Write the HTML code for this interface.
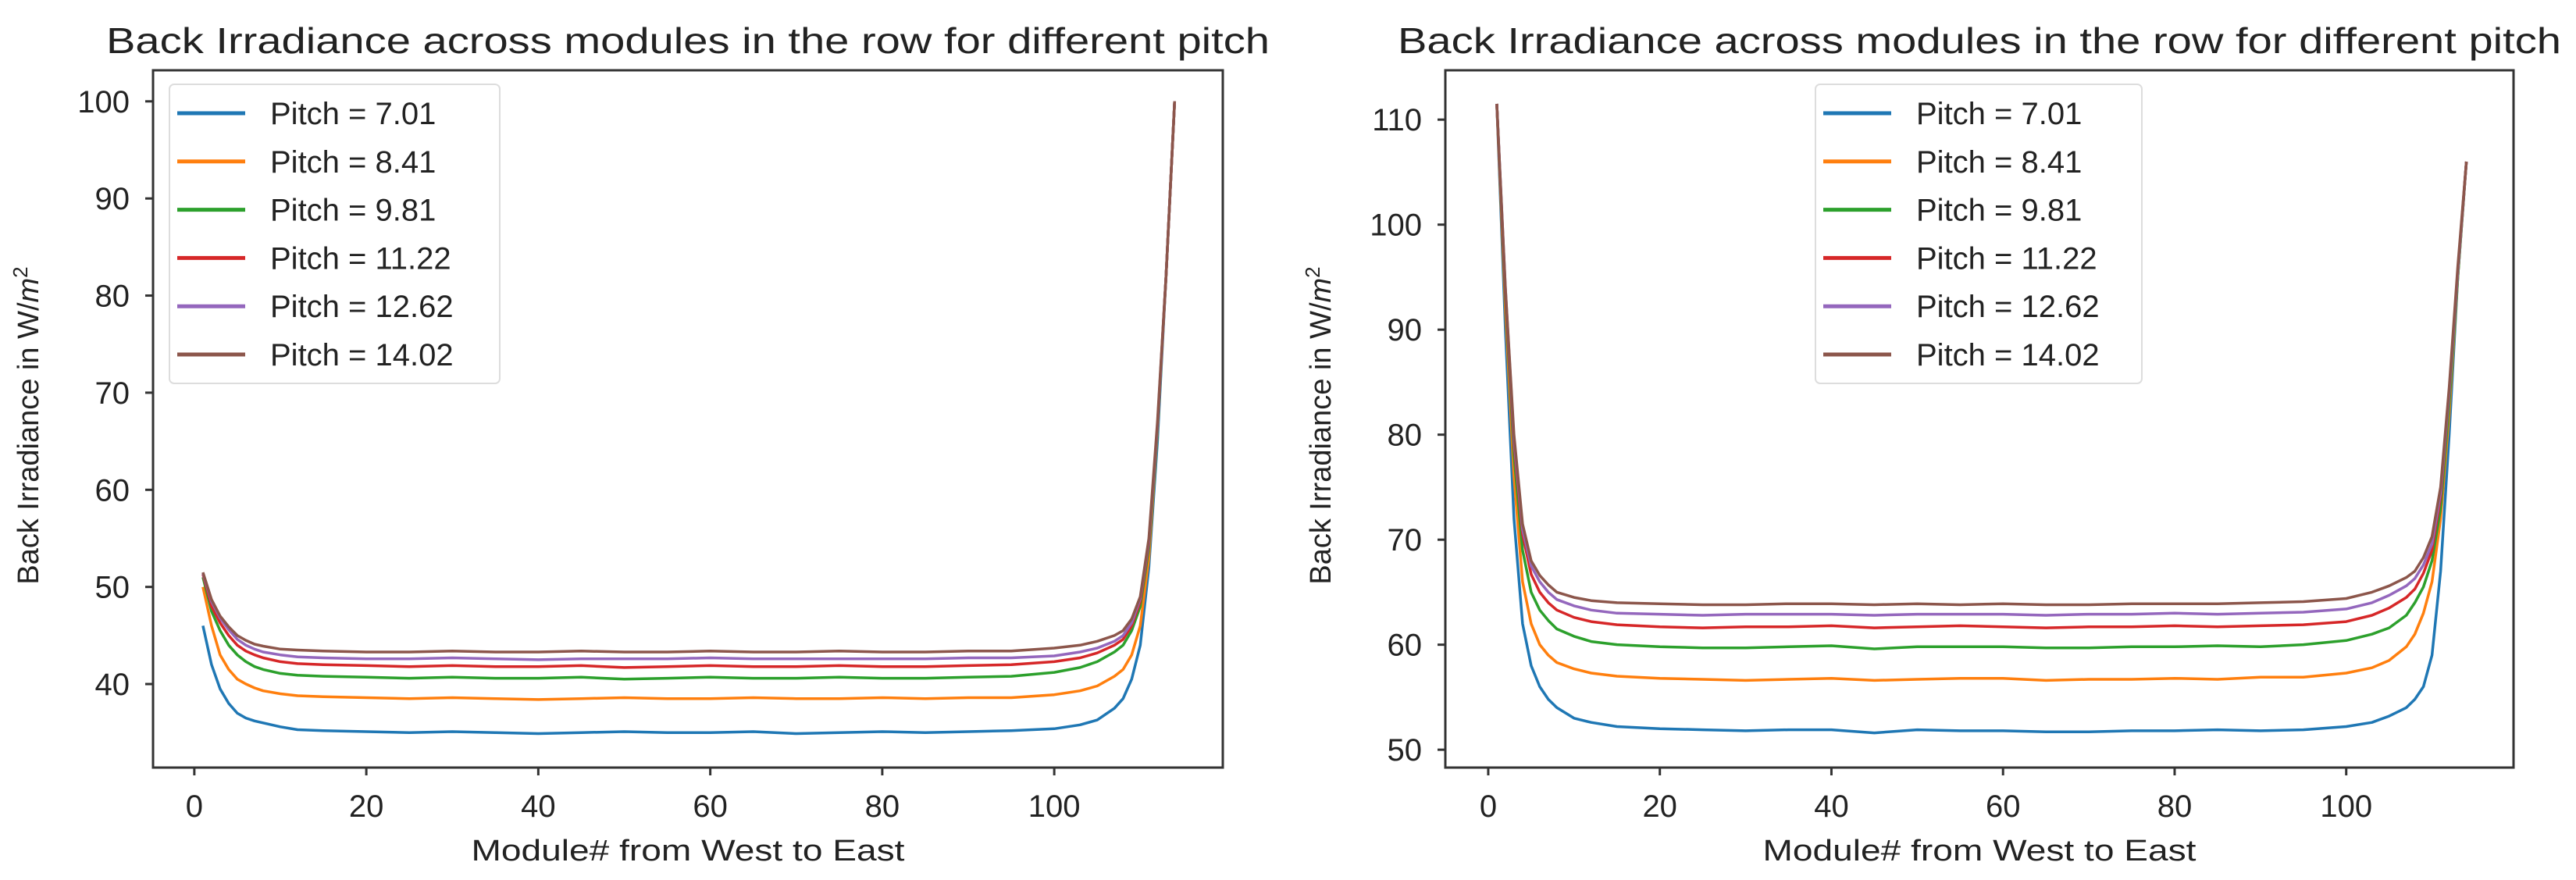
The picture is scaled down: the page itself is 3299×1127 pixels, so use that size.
<!DOCTYPE html>
<html><head><meta charset="utf-8">
<style>
html,body{margin:0;padding:0;background:#fff;}
svg{display:block;font-family:"Liberation Sans","DejaVu Sans",sans-serif;}
</style></head>
<body>
<svg id="chart" width="3299" height="1127" viewBox="0 0 3299 1127" xmlns="http://www.w3.org/2000/svg"></svg>
<script>
const xs = [1,2,3,4,5,6,7,8,10,12,15,20,25,30,35,40,45,50,55,60,65,70,75,80,85,90,95,100,103,105,107,108,109,110,111,112,113,114];
const labels = ["Pitch = 7.01","Pitch = 8.41","Pitch = 9.81","Pitch = 11.22","Pitch = 12.62","Pitch = 14.02"];
const colors = ["#1f77b4","#ff7f0e","#2ca02c","#d62728","#9467bd","#8c564b"];
const leftXTicks = [0,20,40,60,80,100];
const leftYTicks = [40,50,60,70,80,90,100];
const rightYTicks = [50,60,70,80,90,100,110];
const L1 = [46,42,39.5,38,37,36.5,36.2,36,35.6,35.3,35.2,35.1,35.0,35.1,35.0,34.9,35.0,35.1,35.0,35.0,35.1,34.9,35.0,35.1,35.0,35.1,35.2,35.4,35.8,36.3,37.5,38.5,40.5,44,52,65,82,100];
const L2 = [50,46,43,41.5,40.5,40,39.6,39.3,39,38.8,38.7,38.6,38.5,38.6,38.5,38.4,38.5,38.6,38.5,38.5,38.6,38.5,38.5,38.6,38.5,38.6,38.6,38.9,39.3,39.8,40.8,41.5,43,46,53,66,82,100];
const L3 = [51,47.5,45.5,44,43,42.3,41.8,41.5,41.1,40.9,40.8,40.7,40.6,40.7,40.6,40.6,40.7,40.5,40.6,40.7,40.6,40.6,40.7,40.6,40.6,40.7,40.8,41.2,41.7,42.3,43.3,44,45.5,48,54,66,82,100];
const L4 = [51.3,48,46.3,45,44,43.4,43,42.7,42.3,42.1,42,41.9,41.8,41.9,41.8,41.8,41.9,41.7,41.8,41.9,41.8,41.8,41.9,41.8,41.8,41.9,42,42.3,42.7,43.2,44,44.6,46,48.5,54.5,66.5,82,100];
const L5 = [51.4,48.5,46.8,45.6,44.6,44,43.6,43.3,43,42.8,42.7,42.6,42.6,42.7,42.6,42.5,42.6,42.6,42.6,42.7,42.6,42.6,42.6,42.6,42.6,42.7,42.7,42.9,43.3,43.7,44.4,45,46.3,48.8,54.7,66.5,82,100];
const L6 = [51.5,48.7,47,45.9,45,44.5,44.1,43.9,43.6,43.5,43.4,43.3,43.3,43.4,43.3,43.3,43.4,43.3,43.3,43.4,43.3,43.3,43.4,43.3,43.3,43.4,43.4,43.7,44,44.4,45,45.5,46.7,49,55,67,82,100];
const R1 = [111.5,90,72,62,58,56,54.8,54,53,52.6,52.2,52,51.9,51.8,51.9,51.9,51.6,51.9,51.8,51.8,51.7,51.7,51.8,51.8,51.9,51.8,51.9,52.2,52.6,53.2,54,54.8,56,59,67,80,95,106];
const R2 = [111.5,92,76,66,62,60,59,58.3,57.7,57.3,57,56.8,56.7,56.6,56.7,56.8,56.6,56.7,56.8,56.8,56.6,56.7,56.7,56.8,56.7,56.9,56.9,57.3,57.8,58.5,59.8,61,63,66,72,82,95,106];
const R3 = [111.5,93,78,69,65,63.3,62.3,61.5,60.8,60.3,60,59.8,59.7,59.7,59.8,59.9,59.6,59.8,59.8,59.8,59.7,59.7,59.8,59.8,59.9,59.8,60,60.4,61,61.6,62.8,64,65.5,68,73,83,95,106];
const R4 = [111.5,93.5,79,70.5,66.7,65,64,63.3,62.6,62.2,61.9,61.7,61.6,61.7,61.7,61.8,61.6,61.7,61.8,61.7,61.6,61.7,61.7,61.8,61.7,61.8,61.9,62.2,62.8,63.5,64.5,65.3,66.8,69,74,84,95.5,106];
const R5 = [111.5,94,79.5,71,67.5,66,65,64.3,63.7,63.3,63,62.9,62.8,62.9,62.9,62.9,62.8,62.9,62.9,62.9,62.8,62.9,62.9,63,62.9,63,63.1,63.4,64,64.7,65.6,66.3,67.6,69.6,74.5,84,95.5,106];
const R6 = [111.5,94,80,71.5,68,66.6,65.7,65,64.5,64.2,64,63.9,63.8,63.8,63.9,63.9,63.8,63.9,63.8,63.9,63.8,63.8,63.9,63.9,63.9,64,64.1,64.4,65,65.6,66.4,67,68.3,70.3,75,84.5,96,106];

const NS="http://www.w3.org/2000/svg";
const svg=document.getElementById('chart');
function mk(tag,attrs,parent,text){const e=document.createElementNS(NS,tag);for(const k in attrs)e.setAttribute(k,attrs[k]);if(text!==undefined)e.textContent=text;(parent||svg).appendChild(e);return e;}

function panel(id,box,xr,yr,yTicks,series,legendX){
  const g=mk('g',{});
  
  
  const sx=v=>box.x0+(v-xr[0])/(xr[1]-xr[0])*(box.x1-box.x0);
  const sy=v=>box.y1-(v-yr[0])/(yr[1]-yr[0])*(box.y1-box.y0);
  const t=mk('text',{x:(box.x0+box.x1)/2,y:68,'font-size':46,'text-anchor':'middle',fill:'#222',textLength:1490,lengthAdjust:'spacingAndGlyphs'},g,'Back Irradiance across modules in the row for different pitch');
  
  
  // series
  series.forEach((s,i)=>{
    const d=xs.map((x,j)=>(j?'L':'M')+sx(x).toFixed(1)+','+sy(s[j]).toFixed(1)).join(' ');
    const p=mk('path',{d:d,fill:'none',stroke:colors[i],'stroke-width':3.5,'stroke-linejoin':'round'},g);
    
    
  });
  const frame=mk('rect',{x:box.x0,y:box.y0,width:box.x1-box.x0,height:box.y1-box.y0,fill:'none',stroke:'#333','stroke-width':3},g);
  
  
  leftXTicks.forEach(v=>{
    mk('line',{x1:sx(v),x2:sx(v),y1:box.y1,y2:box.y1+10,stroke:'#333','stroke-width':3},g);
    const tl=mk('text',{x:sx(v),y:1046,'font-size':40,'text-anchor':'middle',fill:'#222'},g,String(v));
    
    
  });
  yTicks.forEach(v=>{
    mk('line',{x1:box.x0-10,x2:box.x0,y1:sy(v),y2:sy(v),stroke:'#333','stroke-width':3},g);
    const tl=mk('text',{x:box.x0-30,y:sy(v)+14,'font-size':40,'text-anchor':'end',fill:'#222'},g,String(v));
    
    
  });
  const xl=mk('text',{x:(box.x0+box.x1)/2,y:1102,'font-size':38,'text-anchor':'middle',fill:'#222',textLength:555,lengthAdjust:'spacingAndGlyphs'},g,'Module# from West to East');
  
  
  const yx=box.x0-160;
  const yl=mk('text',{x:0,y:0,'font-size':38,'text-anchor':'middle',fill:'#222',transform:`translate(${yx+13},545) rotate(-90)`},g);
  
  
  yl.appendChild(document.createTextNode('Back Irradiance in W/'));
  const ts=mk('tspan',{'font-style':'italic'},yl,'m');
  mk('tspan',{dy:-14,'font-size':26},yl,'2');
  // legend
  const lg=mk('g',{},g);
  
  
  mk('rect',{x:legendX,y:108,width:legendX===217?423:418,height:383,rx:6,fill:'#fff',stroke:'#ddd','stroke-width':2},lg);
  labels.forEach((lab,i)=>{
    const y=145+i*61.8;
    const e=mk('g',{},lg);
    
    
    mk('line',{x1:legendX+10,x2:legendX+97,y1:y,y2:y,stroke:colors[i],'stroke-width':5},e);
    mk('text',{x:legendX+129,y:y+14,'font-size':40,fill:'#222'},e,lab);
  });
}
panel('left',{x0:196,x1:1566,y0:90,y1:983},[-4.8,119.6],[31.4,103.2],leftYTicks,[L1,L2,L3,L4,L5,L6],217);
panel('right',{x0:1851,x1:3219,y0:90,y1:983},[-5.0,119.5],[48.3,114.7],rightYTicks,[R1,R2,R3,R4,R5,R6],2325);
</script>
</body></html>
